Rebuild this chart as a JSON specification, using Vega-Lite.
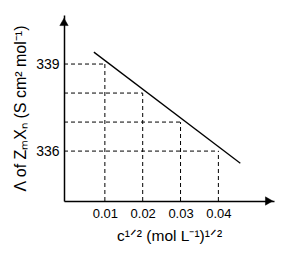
{
  "$schema": "https://vega.github.io/schema/vega-lite/v6.json",
  "autosize": "none",
  "width": 210,
  "height": 186,
  "padding": {"left": 64, "top": 15, "right": 22, "bottom": 59},
  "config": {
    "view": {"stroke": null},
    "font": "Liberation Sans",
    "axis": {"grid": false, "ticks": false, "domainColor": "black", "domainWidth": 1.5, "labelColor": "black", "titleColor": "black", "labelFont": "Liberation Sans", "titleFont": "Liberation Sans", "titleFontWeight": "normal"}
  },
  "layer": [
    {
      "data": {"values": [
        {"x": 0.01, "y": 339, "x0": -0.0008, "y0": 334.28},
        {"x": 0.02, "y": 338, "x0": -0.0008, "y0": 334.28},
        {"x": 0.03, "y": 337, "x0": -0.0008, "y0": 334.28},
        {"x": 0.04, "y": 336, "x0": -0.0008, "y0": 334.28}
      ]},
      "layer": [
        {
          "mark": {"type": "rule", "strokeDash": [4, 3], "strokeWidth": 1, "color": "black"},
          "encoding": {
            "x": {"field": "x0", "type": "quantitative", "scale": {"domain": [-0.0008, 0.0547], "nice": false, "zero": false},
              "axis": {"values": [0.01, 0.02, 0.03, 0.04], "format": ".2f", "labelFontSize": 13, "labelPadding": 6, "title": "c¹ᐟ² (mol L⁻¹)¹ᐟ²", "titleFontSize": 15.5, "titlePadding": 8}},
            "x2": {"field": "x"},
            "y": {"field": "y", "type": "quantitative", "scale": {"domain": [334.28, 340.69], "nice": false, "zero": false},
              "axis": {"values": [336, 339], "labelFontSize": 14, "labelPadding": 5, "title": "Λ of ZₘXₙ (S cm² mol⁻¹)", "titleFontSize": 16, "titlePadding": 7}}
          }
        },
        {
          "mark": {"type": "rule", "strokeDash": [4, 3], "strokeWidth": 1, "color": "black"},
          "encoding": {
            "x": {"field": "x", "type": "quantitative"},
            "y": {"field": "y0", "type": "quantitative"},
            "y2": {"field": "y"}
          }
        }
      ]
    },
    {
      "data": {"values": [
        {"x": 0.0071, "y": 339.41},
        {"x": 0.0458, "y": 335.58}
      ]},
      "mark": {"type": "line", "color": "black", "strokeWidth": 1.3},
      "encoding": {
        "x": {"field": "x", "type": "quantitative"},
        "y": {"field": "y", "type": "quantitative"}
      }
    },
    {
      "data": {"values": [
        {"ax": -0.0008, "ay": 340.45, "shape": "triangle-up"},
        {"ax": 0.0534, "ay": 334.28, "shape": "triangle-right"}
      ]},
      "mark": {"type": "point", "filled": true, "fill": "black", "stroke": "black", "strokeWidth": 0.5, "opacity": 1, "size": 70},
      "encoding": {
        "x": {"field": "ax", "type": "quantitative"},
        "y": {"field": "ay", "type": "quantitative"},
        "shape": {"field": "shape", "type": "nominal", "scale": null, "legend": null}
      }
    }
  ]
}
